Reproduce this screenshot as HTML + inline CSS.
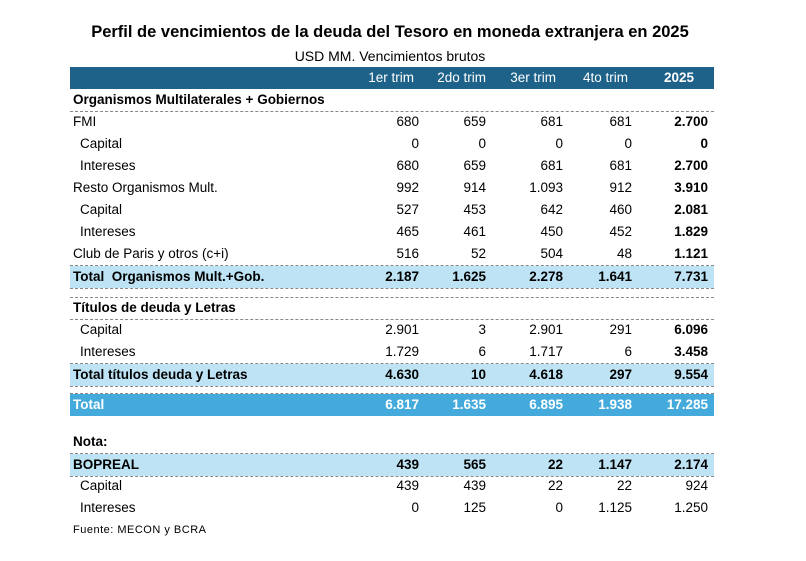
<!DOCTYPE html>
<html><head><meta charset="utf-8"><style>
body{margin:0;width:806px;height:561px;background:#fff;position:relative;font-family:"Liberation Sans",sans-serif;color:#000;overflow:hidden}
div{position:absolute}
.r{height:22px;left:70px;width:644px}
.t{font-size:13.5px;line-height:22px;white-space:nowrap}
.n{font-size:13.5px;line-height:22px;text-align:right;width:80px}
.b{font-weight:bold}
.d{left:70px;width:644px;height:0;border-top:1px dashed #888}
</style></head><body>
<div class="t b" style="left:0;width:780px;text-align:center;top:21px;font-size:16.5px">Perfil de vencimientos de la deuda del Tesoro en moneda extranjera en 2025</div>
<div class="t" style="left:0;width:780px;text-align:center;top:45px;font-size:14px">USD MM. Vencimientos brutos</div>

<div class="r" style="top:67px;background:#1f6289"></div>
<div class="n" style="left:334px;top:67px;color:#fff">1er trim</div>
<div class="n" style="left:406px;top:67px;color:#fff">2do trim</div>
<div class="n" style="left:476px;top:67px;color:#fff">3er trim</div>
<div class="n" style="left:548px;top:67px;color:#fff">4to trim</div>
<div class="n b" style="left:614px;top:67px;color:#fff">2025</div>

<div class="r" style="top:266px;background:#bde3f4"></div>
<div class="r" style="top:364px;background:#bde3f4"></div>
<div class="r" style="top:394px;background:#44aadc"></div>
<div class="r" style="top:454px;background:#bde3f4"></div>

<div class="d" style="top:111px"></div>
<div class="d" style="top:265px"></div>
<div class="d" style="top:288px"></div>
<div class="d" style="top:297px"></div>
<div class="d" style="top:319px"></div>
<div class="d" style="top:363px"></div>
<div class="d" style="top:386px"></div>
<div class="d" style="top:393px"></div>
<div class="d" style="top:453px"></div>
<div class="d" style="top:476px"></div>

<div class="t b" style="left:73px;top:89px">Organismos Multilaterales + Gobiernos</div>

<div class="t" style="left:73px;top:111px">FMI</div>
<div class="n" style="left:339px;top:111px">680</div><div class="n" style="left:406px;top:111px">659</div><div class="n" style="left:483px;top:111px">681</div><div class="n" style="left:552px;top:111px">681</div><div class="n b" style="left:628px;top:111px">2.700</div>

<div class="t" style="left:80px;top:133px">Capital</div>
<div class="n" style="left:339px;top:133px">0</div><div class="n" style="left:406px;top:133px">0</div><div class="n" style="left:483px;top:133px">0</div><div class="n" style="left:552px;top:133px">0</div><div class="n b" style="left:628px;top:133px">0</div>

<div class="t" style="left:80px;top:155px">Intereses</div>
<div class="n" style="left:339px;top:155px">680</div><div class="n" style="left:406px;top:155px">659</div><div class="n" style="left:483px;top:155px">681</div><div class="n" style="left:552px;top:155px">681</div><div class="n b" style="left:628px;top:155px">2.700</div>

<div class="t" style="left:73px;top:177px">Resto Organismos Mult.</div>
<div class="n" style="left:339px;top:177px">992</div><div class="n" style="left:406px;top:177px">914</div><div class="n" style="left:483px;top:177px">1.093</div><div class="n" style="left:552px;top:177px">912</div><div class="n b" style="left:628px;top:177px">3.910</div>

<div class="t" style="left:80px;top:199px">Capital</div>
<div class="n" style="left:339px;top:199px">527</div><div class="n" style="left:406px;top:199px">453</div><div class="n" style="left:483px;top:199px">642</div><div class="n" style="left:552px;top:199px">460</div><div class="n b" style="left:628px;top:199px">2.081</div>

<div class="t" style="left:80px;top:221px">Intereses</div>
<div class="n" style="left:339px;top:221px">465</div><div class="n" style="left:406px;top:221px">461</div><div class="n" style="left:483px;top:221px">450</div><div class="n" style="left:552px;top:221px">452</div><div class="n b" style="left:628px;top:221px">1.829</div>

<div class="t" style="left:73px;top:243px">Club de Paris y otros (c+i)</div>
<div class="n" style="left:339px;top:243px">516</div><div class="n" style="left:406px;top:243px">52</div><div class="n" style="left:483px;top:243px">504</div><div class="n" style="left:552px;top:243px">48</div><div class="n b" style="left:628px;top:243px">1.121</div>

<div class="t b" style="left:73px;top:266px">Total&nbsp; Organismos Mult.+Gob.</div>
<div class="n b" style="left:339px;top:266px">2.187</div><div class="n b" style="left:406px;top:266px">1.625</div><div class="n b" style="left:483px;top:266px">2.278</div><div class="n b" style="left:552px;top:266px">1.641</div><div class="n b" style="left:628px;top:266px">7.731</div>

<div class="t b" style="left:73px;top:297px">Títulos de deuda y Letras</div>

<div class="t" style="left:80px;top:319px">Capital</div>
<div class="n" style="left:339px;top:319px">2.901</div><div class="n" style="left:406px;top:319px">3</div><div class="n" style="left:483px;top:319px">2.901</div><div class="n" style="left:552px;top:319px">291</div><div class="n b" style="left:628px;top:319px">6.096</div>

<div class="t" style="left:80px;top:341px">Intereses</div>
<div class="n" style="left:339px;top:341px">1.729</div><div class="n" style="left:406px;top:341px">6</div><div class="n" style="left:483px;top:341px">1.717</div><div class="n" style="left:552px;top:341px">6</div><div class="n b" style="left:628px;top:341px">3.458</div>

<div class="t b" style="left:73px;top:364px">Total títulos deuda y Letras</div>
<div class="n b" style="left:339px;top:364px">4.630</div><div class="n b" style="left:406px;top:364px">10</div><div class="n b" style="left:483px;top:364px">4.618</div><div class="n b" style="left:552px;top:364px">297</div><div class="n b" style="left:628px;top:364px">9.554</div>

<div class="t b" style="left:73px;top:394px;color:#fff">Total</div>
<div class="n b" style="left:339px;top:394px;color:#fff">6.817</div><div class="n b" style="left:406px;top:394px;color:#fff">1.635</div><div class="n b" style="left:483px;top:394px;color:#fff">6.895</div><div class="n b" style="left:552px;top:394px;color:#fff">1.938</div><div class="n b" style="left:628px;top:394px;color:#fff">17.285</div>

<div class="t b" style="left:73px;top:431px">Nota:</div>

<div class="t b" style="left:73px;top:454px">BOPREAL</div>
<div class="n b" style="left:339px;top:454px">439</div><div class="n b" style="left:406px;top:454px">565</div><div class="n b" style="left:483px;top:454px">22</div><div class="n b" style="left:552px;top:454px">1.147</div><div class="n b" style="left:628px;top:454px">2.174</div>

<div class="t" style="left:80px;top:475px">Capital</div>
<div class="n" style="left:339px;top:475px">439</div><div class="n" style="left:406px;top:475px">439</div><div class="n" style="left:483px;top:475px">22</div><div class="n" style="left:552px;top:475px">22</div><div class="n" style="left:628px;top:475px">924</div>

<div class="t" style="left:80px;top:497px">Intereses</div>
<div class="n" style="left:339px;top:497px">0</div><div class="n" style="left:406px;top:497px">125</div><div class="n" style="left:483px;top:497px">0</div><div class="n" style="left:552px;top:497px">1.125</div><div class="n" style="left:628px;top:497px">1.250</div>

<div class="t" style="left:73px;top:519px;font-size:11px;letter-spacing:0.5px">Fuente: MECON y BCRA</div>
</body></html>
